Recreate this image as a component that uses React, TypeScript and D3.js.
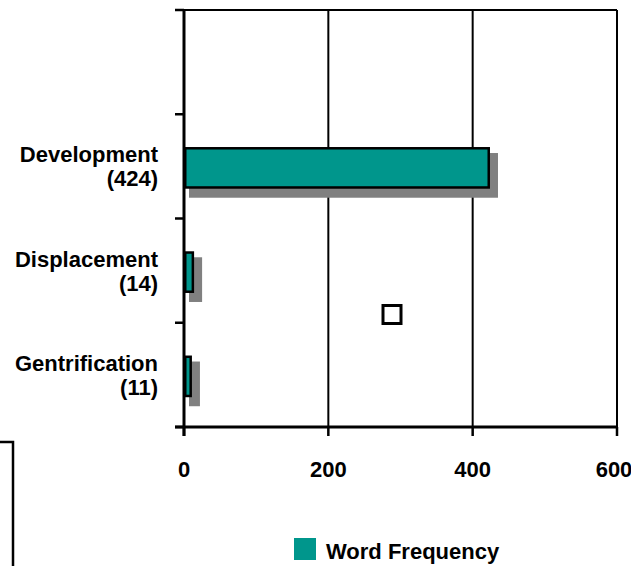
import React from 'react';
import * as d3 from 'd3';

const categories = ['Development', 'Displacement', 'Gentrification'];
const counts = ['(424)', '(14)', '(11)'];
const values = [424, 14, 11];
const xTicks = [0, 200, 400, 600];
const legendLabel = 'Word Frequency';

const W = 631;
const H = 566;
const plot = { left: 184, right: 617, top: 10, bottom: 427 };
const FONT = '"Liberation Sans", Arial, sans-serif';
const TEAL = '#00968c';

const App: React.FC = () => {
  const x = d3.scaleLinear().domain([0, 600]).range([plot.left, plot.right]);
  // one empty band at the top, as in the original
  const y = d3.scaleBand<string>()
    .domain(['__blank', ...categories])
    .range([plot.top, plot.bottom])
    .padding(0);
  const bw = y.bandwidth();
  const barH = bw * 0.4;

  return (
    <svg width={W} height={H} style={{ position: 'absolute', left: 0, top: 0, background: '#fff' }}>
      {/* gridlines and right border */}
      {xTicks.slice(1).map(t => (
        <line key={'g' + t} x1={x(t)} x2={x(t)} y1={plot.top} y2={plot.bottom}
          stroke="#000" strokeWidth={2} />
      ))}
      {/* top border */}
      <line x1={plot.left - 9} x2={plot.right} y1={plot.top} y2={plot.top} stroke="#000" strokeWidth={2} />

      {/* bars with shadows */}
      {categories.map((c, i) => {
        const y0 = (y(c) as number) + (bw - barH) / 2 + 1.5;
        const x0 = x(0);
        const w = x(values[i]) - x0;
        return (
          <g key={c}>
            <rect x={x0 + 5} y={y0 + 6} width={w + 3} height={barH + 3} fill="#808080" />
            <rect x={x0 + 1.25} y={y0 + 1.25} width={w - 2.5} height={barH - 2.5}
              fill={TEAL} stroke="#000" strokeWidth={2.5} />
          </g>
        );
      })}

      {/* y axis */}
      <line x1={plot.left} x2={plot.left} y1={plot.top - 1} y2={plot.bottom + 9} stroke="#000" strokeWidth={3} />
      {[...y.domain().map(d => y(d) as number), plot.bottom].map((v, i) => (
        <line key={'yt' + i} x1={plot.left - 9} x2={plot.left} y1={v} y2={v} stroke="#000" strokeWidth={2.5} />
      ))}
      {categories.map((c, i) => {
        const cy = (y(c) as number) + bw / 2;
        return (
          <text key={'l' + c} textAnchor="end" fontFamily={FONT} fontWeight="bold" fontSize={22} fill="#000">
            <tspan x={158} y={cy - 4}>{c}</tspan>
            <tspan x={158} y={cy + 20}>{counts[i]}</tspan>
          </text>
        );
      })}

      {/* x axis */}
      <line x1={plot.left - 9} x2={plot.right} y1={plot.bottom} y2={plot.bottom} stroke="#000" strokeWidth={3} />
      {xTicks.map(t => (
        <g key={'xt' + t}>
          <line x1={x(t)} x2={x(t)} y1={plot.bottom} y2={plot.bottom + 9} stroke="#000" strokeWidth={2.5} />
          <text x={t === 600 ? x(t) - 3 : x(t)} y={477} textAnchor="middle" fontFamily={FONT}
            fontWeight="bold" fontSize={22} fill="#000">{t}</text>
        </g>
      ))}

      {/* stray marker */}
      <rect x={383} y={305.5} width={18} height={18} fill="#fff" stroke="#000" strokeWidth={3} />

      {/* clipped box at bottom left */}
      <rect x={-20} y={442} width={33} height={150} fill="none" stroke="#000" strokeWidth={2.5} />

      {/* legend */}
      <rect x={294} y={538} width={22} height={22} fill={TEAL} />
      <text x={326} y={559} fontFamily={FONT} fontWeight="bold" fontSize={22} fill="#000">{legendLabel}</text>
    </svg>
  );
};

export default App;
